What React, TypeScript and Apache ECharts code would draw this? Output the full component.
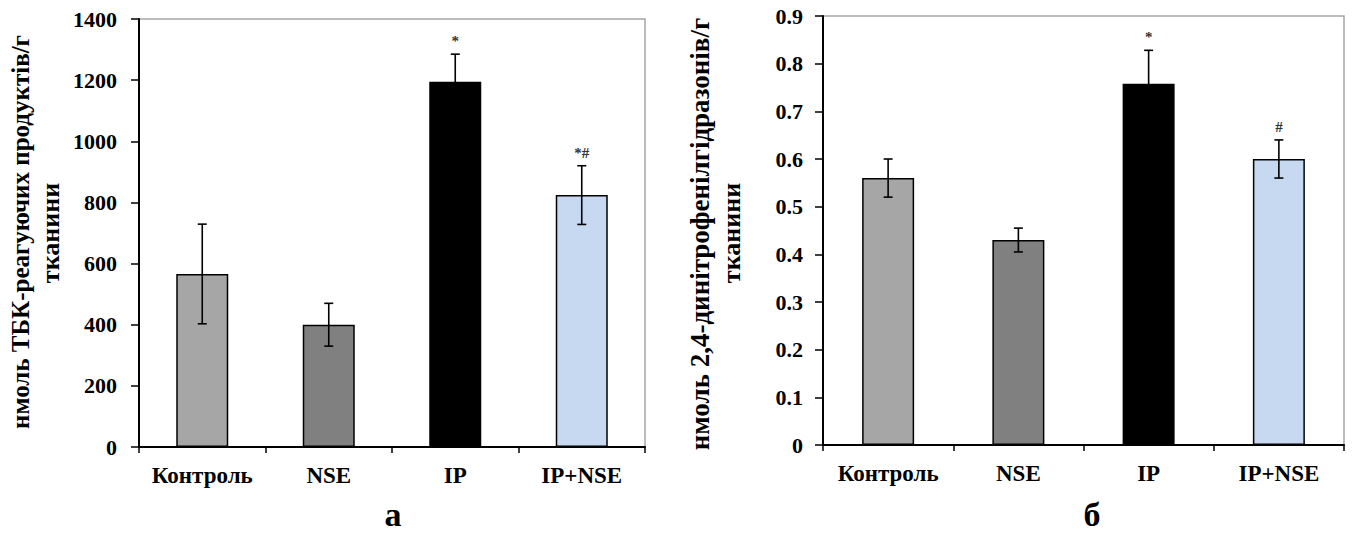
import React, { useEffect, useRef } from "react";
import * as echarts from "echarts";

const categories = ["Контроль", "NSE", "IP", "IP+NSE"];
const tbkMeans = [566, 400, 1195, 824];
const tbkErrors = [163, 70, 90, 96];
const tbkMarks = ["", "", "*", "*#"];
const dnfMeans = [0.56, 0.43, 0.758, 0.6];
const dnfErrors = [0.04, 0.025, 0.07, 0.04];
const dnfMarks = ["", "", "*", "#"];
const barColors = ["#a6a6a6", "#808080", "#000000", "#c6d9f1"];
const leftTitle = ["нмоль ТБК-реагуючих продуктів/г", "тканини"];
const rightTitle = ["нмоль 2,4-динітрофенілгідразонів/г", "тканини"];
const panelLabels = ["а", "б"];

const FONT = "'Liberation Serif', 'Times New Roman', serif";

function errorSeries(xi: number, means: number[], errs: number[], marks: string[]) {
  return {
    type: "custom",
    xAxisIndex: xi,
    yAxisIndex: xi,
    z: 10,
    data: means.map((m, i) => [i, m, errs[i]]),
    renderItem: (params: any, api: any) => {
      const x = api.value(0);
      const m = api.value(1);
      const e = api.value(2);
      const top = api.coord([x, m + e]);
      const bot = api.coord([x, m - e]);
      const cap = 4.5;
      const st = { stroke: "#000", lineWidth: 1.6 };
      const mark = marks[params.dataIndex];
      const children: any[] = [
        { type: "line", shape: { x1: top[0], y1: top[1], x2: bot[0], y2: bot[1] }, style: st },
        { type: "line", shape: { x1: top[0] - cap, y1: top[1], x2: top[0] + cap, y2: top[1] }, style: st },
        { type: "line", shape: { x1: bot[0] - cap, y1: bot[1], x2: bot[0] + cap, y2: bot[1] }, style: st },
      ];
      if (mark) {
        children.push({
          type: "text",
          style: {
            text: mark,
            x: top[0],
            y: top[1] - 13,
            align: "center",
            verticalAlign: "middle",
            font: `bold 15px ${FONT}`,
            fill: "#333",
          },
        });
      }
      return { type: "group", children };
    },
  };
}

function barSeries(xi: number, means: number[]) {
  return {
    type: "bar",
    xAxisIndex: xi,
    yAxisIndex: xi,
    barWidth: 52,
    data: means.map((v, i) => ({
      value: v,
      itemStyle: { color: barColors[i], borderColor: "#000", borderWidth: 1.5 },
    })),
  };
}

function vText(text: string, x: number, y: number, size: number) {
  return {
    type: "text",
    x,
    y,
    rotation: Math.PI / 2,
    style: {
      text,
      align: "center",
      verticalAlign: "middle",
      font: `bold ${size}px ${FONT}`,
      fill: "#000",
    },
  };
}

export default function App() {
  const ref = useRef<HTMLDivElement>(null);
  useEffect(() => {
    if (!ref.current) return;
    const chart = echarts.init(ref.current, undefined, { renderer: "svg" });
    const axisFont = { fontFamily: FONT, fontWeight: "bold" as const, fontSize: 22, color: "#000" };
    const xAxisCommon = {
      type: "category",
      data: categories,
      boundaryGap: true,
      axisLine: { lineStyle: { color: "#000", width: 2 } },
      axisTick: { show: true, length: 6, inside: false, lineStyle: { color: "#000", width: 1.5 } },
      axisLabel: { ...axisFont, fontSize: 23, margin: 17, interval: 0 },
      splitLine: { show: false },
    };
    const yAxisCommon = {
      type: "value",
      axisLine: { show: true, lineStyle: { color: "#000", width: 2 } },
      axisTick: { show: true, length: 8, lineStyle: { color: "#000", width: 1.5 } },
      splitLine: { show: false },
    };
    chart.setOption({
      animation: false,
      backgroundColor: "#fff",
      grid: [
        { left: 139, top: 19, width: 506, height: 428, show: true, borderColor: "#a6a6a6", borderWidth: 1.5, backgroundColor: "transparent" },
        { left: 823, top: 16, width: 521, height: 429, show: true, borderColor: "#a6a6a6", borderWidth: 1.5, backgroundColor: "transparent" },
      ],
      xAxis: [
        { ...xAxisCommon, gridIndex: 0 },
        { ...xAxisCommon, gridIndex: 1 },
      ],
      yAxis: [
        {
          ...yAxisCommon,
          gridIndex: 0,
          min: 0,
          max: 1400,
          interval: 200,
          axisLabel: { ...axisFont, margin: 22, formatter: (v: number) => String(Math.round(v)) },
        },
        {
          ...yAxisCommon,
          gridIndex: 1,
          min: 0,
          max: 0.9,
          interval: 0.1,
          axisLabel: {
            ...axisFont,
            margin: 20,
            formatter: (v: number) => (Math.abs(v) < 1e-9 ? "0" : v.toFixed(1)),
          },
        },
      ],
      graphic: [
        vText(leftTitle[0], 20, 232, 25),
        vText(leftTitle[1], 50, 233, 26),
        vText(rightTitle[0], 700, 234, 27),
        vText(rightTitle[1], 731, 233, 26),
        {
          type: "text",
          x: 393,
          y: 514,
          style: { text: panelLabels[0], align: "center", verticalAlign: "middle", font: `bold 34px ${FONT}`, fill: "#000" },
        },
        {
          type: "text",
          x: 1092,
          y: 514,
          style: { text: panelLabels[1], align: "center", verticalAlign: "middle", font: `bold 34px ${FONT}`, fill: "#000" },
        },
      ],
      series: [
        barSeries(0, tbkMeans),
        errorSeries(0, tbkMeans, tbkErrors, tbkMarks),
        barSeries(1, dnfMeans),
        errorSeries(1, dnfMeans, dnfErrors, dnfMarks),
      ],
    });
    return () => chart.dispose();
  }, []);
  return (
    <div
      ref={ref}
      style={{ position: "absolute", left: 0, top: 0, width: 1352, height: 533, background: "#fff" }}
    />
  );
}
